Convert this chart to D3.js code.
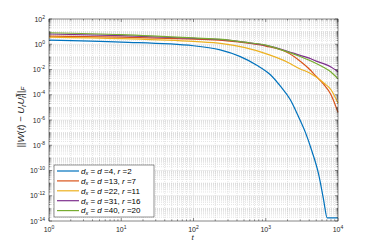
<!DOCTYPE html>
<html>
<head>
<meta charset="utf-8">
<script src="https://cdn.jsdelivr.net/npm/d3@7"></script>
<style>
  body { margin: 0; background: #fff; }
  svg { display: block; }
  text { font-family: "Liberation Sans", Helvetica, Arial, sans-serif; }
</style>
</head>
<body>
<script>
"use strict";

// time samples
const tGrid = [1, 10, 100, 250, 500, 1000, 2000, 3000, 4000, 5000, 6300, 8000, 10000]
const blueT = [1, 10, 100, 234, 437, 741, 1150, 1585, 2190, 2820, 3550, 4370, 5370, 6310, 7080, 10000]

// errors per run
const err4 = [2.14, 1.48, 0.76, 0.36, 0.11, 0.023, 4.0e-3, 5.0e-4, 4.0e-5, 2.0e-6, 1.0e-7, 3.2e-9, 5.6e-11, 5.0e-13, 1.8e-14, 1.8e-14]
const err13 = [4.47, 3.63, 2.51, 2.04, 1.32, 0.72, 0.22, 0.045, 0.011, 0.0028, 7.1e-4, 1.0e-4, 4.0e-6]
const err22 = [3.72, 2.82, 1.66, 1.12, 0.56, 0.18, 0.038, 0.011, 0.0056, 0.0025, 8.9e-4, 2.5e-4, 2.2e-5]
const err31 = [6.46, 4.79, 2.88, 2.34, 1.45, 0.81, 0.28, 0.13, 0.079, 0.046, 0.029, 0.016, 0.0066]
const err40 = [8.13, 5.75, 3.16, 2.40, 1.45, 0.85, 0.25, 0.107, 0.054, 0.030, 0.015, 0.0063, 0.0018]

const dims = [4, 13, 22, 31, 40]
const ranks = [2, 7, 11, 16, 20]
const colors = ['#0072BD', '#D95319', '#EDB120', '#7E2F8E', '#77AC30']

const xTicks = [1, 10, 100, 1000, 10000]
const yTicks = [1e-14, 1e-12, 1e-10, 1e-8, 1e-6, 1e-4, 1e-2, 1e0, 1e2]

const series = [
    { t: blueT, v: err4 },
    { t: tGrid, v: err13 },
    { t: tGrid, v: err22 },
    { t: tGrid, v: err31 },
    { t: tGrid, v: err40 }
]

const m = { width: 374, height: 249, left: 49, right: 338, top: 19, bottom: 221 }

const svg = d3.select('body').append('svg')
    .attr('width', m.width)
    .attr('height', m.height)

const x = d3.scaleLog().domain([1, 1e4]).range([m.left, m.right])
const y = d3.scaleLog().domain([1e-14, 1e2]).range([m.bottom, m.top])

// minor values: 1..9 in every decade
const minorX = []
for (let e = 0; e < 4; e++) for (let k = 2; k <= 9; k++) minorX.push(k * Math.pow(10, e))
const minorY = []
for (let e = -14; e < 2; e++) for (let k = 1; k <= 9; k++) {
    const v = k * Math.pow(10, e)
    if (!(k === 1 && e % 2 === 0)) minorY.push(v)
}

const grid = svg.append('g')
grid.selectAll('.mx').data(minorX).enter().append('line')
    .attr('x1', d => x(d)).attr('x2', d => x(d))
    .attr('y1', m.top).attr('y2', m.bottom)
    .attr('stroke', '#c8c8c8').attr('stroke-width', 0.5).attr('stroke-dasharray', '1,1')
grid.selectAll('.my').data(minorY).enter().append('line')
    .attr('y1', d => y(d)).attr('y2', d => y(d))
    .attr('x1', m.left).attr('x2', m.right)
    .attr('stroke', '#c8c8c8').attr('stroke-width', 0.5).attr('stroke-dasharray', '1,1')
grid.selectAll('.gx').data(xTicks).enter().append('line')
    .attr('x1', d => x(d)).attr('x2', d => x(d))
    .attr('y1', m.top).attr('y2', m.bottom)
    .attr('stroke', '#dcdcdc').attr('stroke-width', 0.5)
grid.selectAll('.gy').data(yTicks).enter().append('line')
    .attr('y1', d => y(d)).attr('y2', d => y(d))
    .attr('x1', m.left).attr('x2', m.right)
    .attr('stroke', '#dcdcdc').attr('stroke-width', 0.5)

// curves
const line = d3.line()
    .x(d => x(d[0]))
    .y(d => y(d[1]))
    .curve(d3.curveMonotoneX)

svg.append('g').selectAll('path')
    .data(series)
    .enter()
    .append('path')
    .attr('d', s => line(s.t.map((t, i) => [t, s.v[i]])))
    .attr('fill', 'none')
    .attr('stroke', (s, i) => colors[i])
    .attr('stroke-width', 1.2)

// box + inward ticks on all sides
const axisCol = '#262626'
const tk = svg.append('g').attr('stroke', axisCol).attr('stroke-width', 0.5)
tk.append('rect')
    .attr('x', m.left).attr('y', m.top)
    .attr('width', m.right - m.left).attr('height', m.bottom - m.top)
    .attr('fill', 'none')

function xTick(v, len) {
    tk.append('line').attr('x1', x(v)).attr('x2', x(v)).attr('y1', m.bottom).attr('y2', m.bottom - len)
    tk.append('line').attr('x1', x(v)).attr('x2', x(v)).attr('y1', m.top).attr('y2', m.top + len)
}
function yTick(v, len) {
    tk.append('line').attr('y1', y(v)).attr('y2', y(v)).attr('x1', m.left).attr('x2', m.left + len)
    tk.append('line').attr('y1', y(v)).attr('y2', y(v)).attr('x1', m.right).attr('x2', m.right - len)
}
xTicks.forEach(v => xTick(v, 3))
minorX.forEach(v => xTick(v, 1.5))
yTicks.forEach(v => yTick(v, 3))
minorY.forEach(v => yTick(v, 1.5))

// tick labels
const labs = svg.append('g').attr('fill', axisCol).attr('font-size', 7)
xTicks.forEach(v => {
    const t = labs.append('text')
        .attr('x', x(v)).attr('y', m.bottom + 11)
        .attr('text-anchor', 'middle')
    t.append('tspan').text('10')
    t.append('tspan').attr('font-size', 5).attr('dy', -3).text(Math.round(Math.log10(v)))
})
yTicks.forEach(v => {
    const t = labs.append('text')
        .attr('x', m.left - 4).attr('y', y(v) + 2.5)
        .attr('text-anchor', 'end')
    t.append('tspan').text('10')
    t.append('tspan').attr('font-size', 5).attr('dy', -3).text(Math.round(Math.log10(v)))
})

// axis labels
const serif = '"Liberation Serif", "DejaVu Serif", serif'
svg.append('text')
    .attr('x', (m.left + m.right) / 2 - 1).attr('y', 240)
    .attr('text-anchor', 'middle')
    .attr('font-family', serif).attr('font-style', 'italic').attr('font-size', 8)
    .attr('fill', axisCol)
    .text('t')

const yl = svg.append('text')
    .attr('transform', 'translate(24,117) rotate(-90)')
    .attr('text-anchor', 'middle')
    .attr('font-family', serif).attr('font-size', 9.5)
    .attr('fill', axisCol)
yl.append('tspan').text('||')
yl.append('tspan').attr('font-style', 'italic').text('W')
yl.append('tspan').text('(')
yl.append('tspan').attr('font-style', 'italic').text('t')
yl.append('tspan').text(') \u2212 ')
yl.append('tspan').attr('font-style', 'italic').text('U')
yl.append('tspan').attr('font-style', 'italic').attr('font-size', 6.5).attr('dy', 2).text('r')
yl.append('tspan').attr('font-style', 'italic').attr('dy', -2).text('U')
yl.append('tspan').attr('font-style', 'italic').attr('font-size', 6.5).attr('dy', -3.5).text('T')
yl.append('tspan').attr('font-style', 'italic').attr('font-size', 6.5).attr('dx', -3.5).attr('dy', 5.5).text('r')
yl.append('tspan').attr('dy', -2).text('||')
yl.append('tspan').attr('font-style', 'italic').attr('font-size', 6.5).attr('dy', 2).text('F')

// legend
const lg = svg.append('g')
lg.append('rect')
    .attr('x', 54).attr('y', 165).attr('width', 100).attr('height', 52)
    .attr('fill', '#fff').attr('stroke', '#262626').attr('stroke-width', 0.5)

dims.forEach((d, i) => {
    const yy = 171 + i * 9.9
    lg.append('line')
        .attr('x1', 57).attr('x2', 79).attr('y1', yy).attr('y2', yy)
        .attr('stroke', colors[i]).attr('stroke-width', 1.2)
    const t = lg.append('text')
        .attr('x', 81).attr('y', yy + 2.8)
        .attr('font-family', serif).attr('font-size', 8).attr('fill', '#000')
    t.append('tspan').attr('font-style', 'italic').text('d')
    t.append('tspan').attr('font-style', 'italic').attr('font-size', 5.5).attr('dy', 1.5).text('x')
    t.append('tspan').attr('dy', -1.5).text(' = ')
    t.append('tspan').attr('font-style', 'italic').text('d')
    t.append('tspan').text(' =' + d + ',  ')
    t.append('tspan').attr('font-style', 'italic').text('r')
    t.append('tspan').text(' =' + ranks[i])
})
</script>
</body>
</html>
